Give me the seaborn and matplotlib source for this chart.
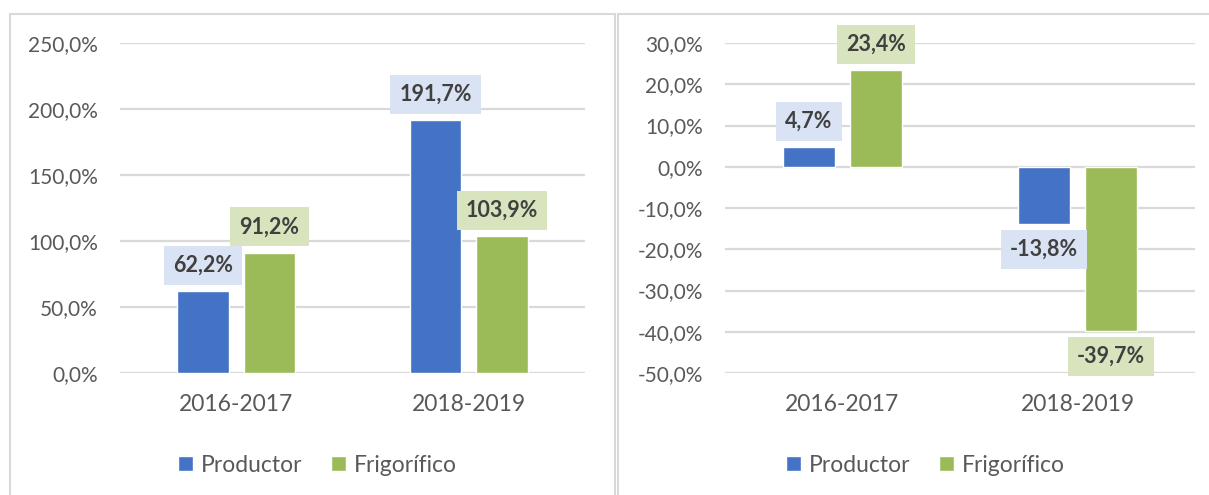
import matplotlib.pyplot as plt
import pandas as pd
import seaborn as sns
from matplotlib.patches import Rectangle

periods = ["2016-2017", "2018-2019"]
series = ["Productor", "Frigorífico"]
left_productor = [62.2, 191.7]
left_frigorifico = [91.2, 103.9]
right_productor = [4.7, -13.8]
right_frigorifico = [23.4, -39.7]

bar_colors = ["#4472C4", "#9BBB59"]
label_boxes = ["#DAE3F3", "#D7E4BD"]
grid_gray = "#D9D9D9"
text_gray = "#595959"


def pct(v):
    return f"{v:.1f}%".replace(".", ",")


def make_frame(prod, frig):
    rows = []
    for p, a, b in zip(periods, prod, frig):
        rows.append({"periodo": p, "serie": series[0], "valor": a})
        rows.append({"periodo": p, "serie": series[1], "valor": b})
    return pd.DataFrame(rows)


sns.set_style("white")
plt.rcParams["font.family"] = ["Lato", "DejaVu Sans"]

fig = plt.figure(figsize=(12.09, 4.95), dpi=100)

# panel frames
fig.patches.append(Rectangle((10 / 1209, -0.05), 605 / 1209, 1.05 - 14 / 495,
                             transform=fig.transFigure, fill=False,
                             edgecolor=grid_gray, linewidth=1.5))
fig.patches.append(Rectangle((618 / 1209, -0.05), 0.5, 1.05 - 14 / 495,
                             transform=fig.transFigure, fill=False,
                             edgecolor=grid_gray, linewidth=1.5))

ax_top = 1 - 43 / 495
ax_h = 330 / 495
ax1 = fig.add_axes([120 / 1209, ax_top - ax_h, 465 / 1209, ax_h])
ax2 = fig.add_axes([725 / 1209, ax_top - ax_h, 470 / 1209, ax_h])

panels = [
    (ax1, make_frame(left_productor, left_frigorifico), (0, 250), range(0, 251, 50), 317),
    (ax2, make_frame(right_productor, right_frigorifico), (-50, 30), range(-50, 31, 10), 925),
]

for ax, df, ylim, ticks, legend_x in panels:
    sns.barplot(data=df, x="periodo", y="valor", hue="serie", palette=bar_colors,
                width=0.572, gap=0.22, saturation=1, ax=ax, zorder=3)
    ax.set_ylim(*ylim)
    ax.set_yticks(list(ticks))
    ax.set_yticklabels([pct(t) for t in ticks])
    ax.set_xlim(-0.5, 1.5)
    ax.set(xlabel="", ylabel="")
    ax.grid(axis="y", color=grid_gray, linewidth=1.6, zorder=0)
    ax.set_axisbelow(True)
    sns.despine(ax=ax, left=True, bottom=True)
    ax.tick_params(axis="y", length=0, pad=16, labelsize=15, labelcolor=text_gray)
    ax.tick_params(axis="x", length=0, pad=15, labelsize=16.5, labelcolor=text_gray)

    for cont, box in zip(ax.containers, label_boxes):
        ax.bar_label(cont, fmt=pct, padding=11, fontsize=15.5, fontweight="bold",
                     color="#404040",
                     bbox=dict(boxstyle="square,pad=0.42", facecolor=box, edgecolor="none"))

    sns.move_legend(ax, "center", bbox_to_anchor=(legend_x / 1209, 1 - 465 / 495),
                    bbox_transform=fig.transFigure, ncol=2, frameon=False, title=None,
                    fontsize=16.5, handlelength=0.68, handleheight=0.68,
                    handletextpad=0.32, columnspacing=1.25, labelcolor=text_gray)

fig.savefig("out.png", dpi=100)
